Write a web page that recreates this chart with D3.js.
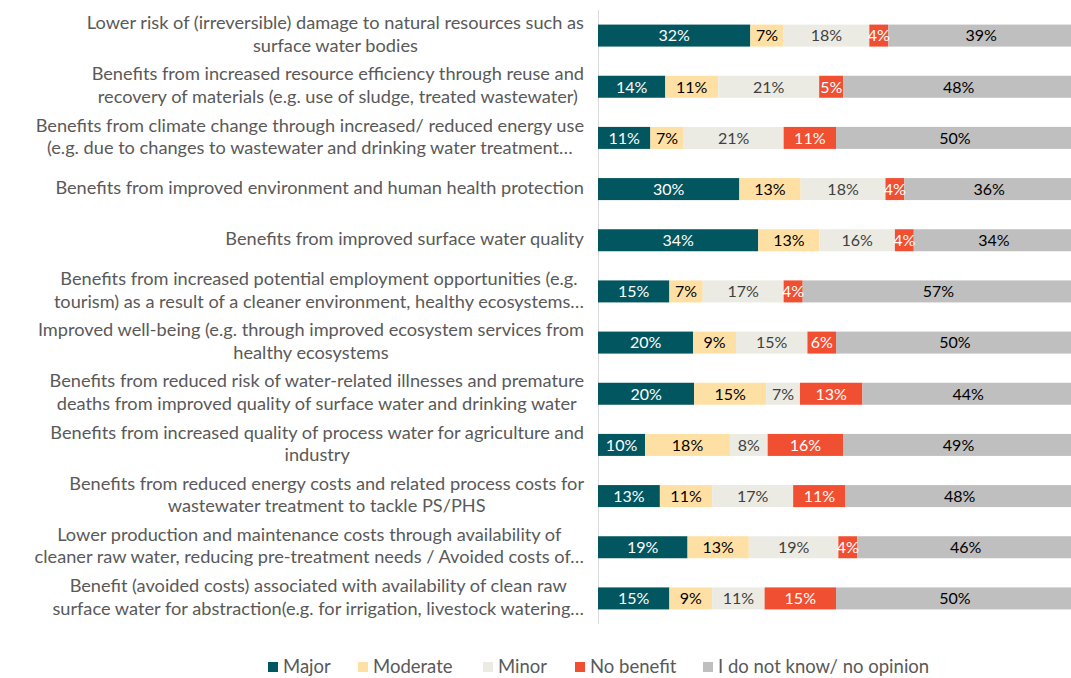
<!DOCTYPE html>
<meta charset="utf-8">
<script src="https://d3js.org/d3.v7.min.js"></script>
<style>
  body { margin: 0; background: #fff; }
  text { font-family: Lato, "Open Sans", sans-serif; }
</style>
<svg id="chart" width="1071" height="678"></svg>
<script>

// Categories (line breaks as in the original wrapped labels)
var categories = [
  "Lower risk of (irreversible) damage to natural resources such as|surface water bodies",
  "Benefits from increased resource efficiency through reuse and|recovery of materials (e.g. use of sludge, treated wastewater)",
  "Benefits from climate change through increased/ reduced energy use|(e.g. due to changes to wastewater and drinking water treatment…",
  "Benefits from improved environment and human health protection",
  "Benefits from improved surface water quality",
  "Benefits from increased potential employment opportunities (e.g.|tourism) as a result of a cleaner environment, healthy ecosystems…",
  "Improved well-being (e.g. through improved ecosystem services from|healthy ecosystems",
  "Benefits from reduced risk of water-related illnesses and premature|deaths from improved quality of surface water and drinking water",
  "Benefits from increased quality of process water for agriculture and|industry",
  "Benefits from reduced energy costs and related process costs for|wastewater treatment to tackle PS/PHS",
  "Lower production and maintenance costs through availability of|cleaner raw water, reducing pre-treatment needs / Avoided costs of…",
  "Benefit (avoided costs) associated with availability of clean raw|surface water for abstraction(e.g. for irrigation, livestock watering…"
];

var seriesNames = ["Major", "Moderate", "Minor", "No benefit", "I do not know/ no opinion"];

var major     = [32, 14, 11, 30, 34, 15, 20, 20, 10, 13, 19, 15];
var moderate  = [ 7, 11,  7, 13, 13,  7,  9, 15, 18, 11, 13,  9];
var minor     = [18, 21, 21, 18, 16, 17, 15,  7,  8, 17, 19, 11];
var noBenefit = [ 4,  5, 11,  4,  4,  4,  6, 13, 16, 11,  4, 15];
var unknown   = [39, 48, 50, 36, 34, 57, 50, 44, 49, 48, 46, 50];

var colors    = ["#02565f", "#ffe0a4", "#ebebe3", "#f04f32", "#bfbfbf"];
var textColor = ["#ffffff", "#000000", "#404040", "#ffffff", "#000000"];

var svg = d3.select("#chart");

// table for d3.stack
var rows = categories.map(function(c, i) {
  return { cat: c, "Major": major[i], "Moderate": moderate[i], "Minor": minor[i],
           "No benefit": noBenefit[i], "I do not know/ no opinion": unknown[i] };
});

var stacked = d3.stack()
  .keys(seriesNames)
  .offset(d3.stackOffsetExpand)(rows);

var x = d3.scaleLinear().domain([0, 1]).range([598, 1074]);
var y = d3.scaleBand()
  .domain(categories)
  .range([10, 624])
  .paddingInner(0.57)
  .paddingOuter(0.285);

// vertical axis line
svg.append("line")
  .attr("x1", 598.5).attr("x2", 598.5)
  .attr("y1", 10).attr("y2", 624)
  .attr("stroke", "#d9d9d9").attr("stroke-width", 1);

// bars
var groups = svg.append("g").selectAll("g")
  .data(stacked)
  .enter().append("g")
  .attr("fill", function(d, i) { return colors[i]; });

groups.selectAll("rect")
  .data(function(d) { return d; })
  .enter().append("rect")
  .attr("x", function(d) { return x(d[0]); })
  .attr("width", function(d) { return x(d[1]) - x(d[0]); })
  .attr("y", function(d) { return y(d.data.cat); })
  .attr("height", y.bandwidth());

// value labels
stacked.forEach(function(s, si) {
  svg.append("g").selectAll("text")
    .data(s)
    .enter().append("text")
    .attr("x", function(d) { return (x(d[0]) + x(d[1])) / 2; })
    .attr("y", function(d) { return y(d.data.cat) + y.bandwidth() / 2; })
    .attr("dy", "0.36em")
    .attr("text-anchor", "middle")
    .attr("font-size", 16)
    .attr("fill", textColor[si])
    .text(function(d) { return d.data[s.key] + "%"; });
});

// category labels: block right-aligned at the axis, lines centred in block
var lineH = 22.5;
categories.forEach(function(c) {
  var lines = c.split("|");
  var g = svg.append("g");
  var cy = y(c) + y.bandwidth() / 2 - 1.5;
  var texts = lines.map(function(l, li) {
    return g.append("text")
      .attr("y", cy + (li - (lines.length - 1) / 2) * lineH)
      .attr("dy", "0.35em")
      .attr("text-anchor", "middle")
      .attr("font-size", 18.2)
      .attr("fill", "#595959")
      .text(l);
  });
  var w = d3.max(texts, function(t) { return t.node().getComputedTextLength(); });
  texts.forEach(function(t) { t.attr("x", 584 - w / 2); });
});

// legend
var legendX = [268, 358, 483, 575, 703];
var legend = svg.append("g").selectAll("g")
  .data(seriesNames)
  .enter().append("g")
  .attr("transform", function(d, i) { return "translate(" + legendX[i] + ",667)"; });

legend.append("rect")
  .attr("x", 0).attr("y", -5)
  .attr("width", 10).attr("height", 10)
  .attr("fill", function(d, i) { return colors[i]; });

legend.append("text")
  .attr("x", 15).attr("dy", "0.35em")
  .attr("font-size", 18.5)
  .attr("fill", "#595959")
  .text(function(d) { return d; });

</script>
